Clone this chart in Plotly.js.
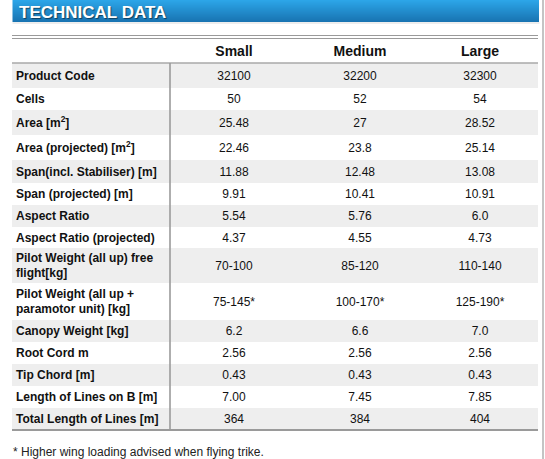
<!DOCTYPE html>
<html><head><meta charset="utf-8">
<script src="https://cdn.plot.ly/plotly-3.0.1.min.js"></script>
<style>html,body{margin:0;padding:0;background:#fff;} #chart{width:545px;height:459px;}</style>
</head><body><div id="chart"></div>
<script>
// ---- data ----
const title = "TECHNICAL DATA";
const sizes = ["Small", "Medium", "Large"];
const labels = ["Product Code", "Cells", "Area [m<sup>2</sup>]", "Area (projected) [m<sup>2</sup>]",
  "Span(incl. Stabiliser) [m]", "Span (projected) [m]", "Aspect Ratio", "Aspect Ratio (projected)",
  "Pilot Weight (all up) free<br>flight[kg]", "Pilot Weight (all up +<br>paramotor unit) [kg]",
  "Canopy Weight [kg]", "Root Cord m", "Tip Chord [m]", "Length of Lines on B [m]", "Total Length of Lines [m]"];
const small  = ["32100", "50", "25.48", "22.46", "11.88", "9.91", "5.54", "4.37", "70-100", "75-145*", "6.2", "2.56", "0.43", "7.00", "364"];
const medium = ["32200", "52", "27", "23.8", "12.48", "10.41", "5.76", "4.55", "85-120", "100-170*", "6.6", "2.56", "0.43", "7.45", "384"];
const large  = ["32300", "54", "28.52", "25.14", "13.08", "10.91", "6.0", "4.73", "110-140", "125-190*", "7.0", "2.56", "0.43", "7.85", "404"];
const footnote = "* Higher wing loading advised when flying trike.";

// ---- layout constants ----
const W = 545, H = 459;
const colEdges = [12, 170, 298, 422, 538];
const headerTop = 39, headerH = 24;
const rowHeights = [25, 22, 25, 25, 23, 22, 22, 21, 35, 37, 22, 22, 22, 22, 22];
const FONT = "Liberation Sans, Arial, Helvetica, sans-serif";
const GRAY = "#eeeeee", LINE = "#9a9a9a";
const TEXT_DY = 1.2;

const rowTops = [];
let acc = headerTop + headerH;
rowHeights.forEach(h => { rowTops.push(acc); acc += h; });
const tableBottom = acc;
const rowCenters = rowTops.map((t, i) => t + rowHeights[i] / 2 + TEXT_DY);
const colCenters = [1, 2, 3].map(i => (colEdges[i] + colEdges[i + 1]) / 2);

const shapes = [];
// header bar gradient (stripes)
const c0 = [44, 165, 232], c1 = [24, 116, 178];
const barH = 22;
for (let i = 0; i < barH; i++) {
  const t = i / (barH - 1);
  const c = c0.map((v, k) => Math.round(v + (c1[k] - v) * t));
  shapes.push({type: "rect", xref: "x", yref: "y", x0: 12.5, x1: 539, y0: i, y1: i + 1.05,
    fillcolor: `rgb(${c.join(",")})`, line: {width: 0}, layer: "below"});
}
shapes.push({type: "rect", xref: "x", yref: "y", x0: 12.5, x1: 539.5, y0: 22, y1: 24,
  fillcolor: "rgba(0,0,0,0.07)", line: {width: 0}, layer: "below"});
// row backgrounds
rowTops.forEach((t, i) => {
  if (i % 2 === 0) shapes.push({type: "rect", xref: "x", yref: "y", x0: colEdges[0], x1: colEdges[4],
    y0: t, y1: t + rowHeights[i], fillcolor: GRAY, line: {width: 0}, layer: "below"});
});
// lines
const hline = (y, w, c) => ({type: "line", xref: "x", yref: "y", x0: colEdges[0], x1: colEdges[4], y0: y, y1: y, line: {color: c, width: w}});
shapes.push(hline(35.5, 1.2, LINE));
shapes.push(hline(38.5, 1.2, LINE));
shapes.push(hline(headerTop + headerH, 1.6, "#a8a8a8"));
shapes.push(hline(tableBottom, 1.8, LINE));
shapes.push({type: "line", xref: "x", yref: "y", x0: colEdges[1], x1: colEdges[1], y0: headerTop + headerH, y1: tableBottom, line: {color: LINE, width: 1.6}});
shapes.push({type: "line", xref: "x", yref: "y", x0: 543, x1: 543, y0: 0, y1: H, line: {color: "#b0b0b0", width: 1.5}});

// ---- traces ----
const traces = [];
traces.push({type: "scatter", mode: "text", x: labels.map(() => 16), y: rowCenters,
  text: labels.map(s => "<b>" + s + "</b>"), textposition: "middle right",
  textfont: {family: FONT, size: 12, color: "#111"}, hoverinfo: "skip", showlegend: false, cliponaxis: false});
[small, medium, large].forEach((vals, j) => {
  traces.push({type: "scatter", mode: "text", x: vals.map(() => colCenters[j]), y: rowCenters,
    text: vals, textposition: "middle center",
    textfont: {family: FONT, size: 12, color: "#111"}, hoverinfo: "skip", showlegend: false, cliponaxis: false});
});
traces.push({type: "scatter", mode: "text", x: colCenters, y: sizes.map(() => headerTop + headerH / 2 + 1.5),
  text: sizes.map(s => "<b>" + s + "</b>"), textposition: "middle center",
  textfont: {family: FONT, size: 14, color: "#111"}, hoverinfo: "skip", showlegend: false, cliponaxis: false});

const annotations = [
  {xref: "x", yref: "y", x: 17, y: 12, xanchor: "left", yanchor: "middle", showarrow: false,
   text: "<b>" + title + "</b>", font: {family: FONT, size: 17, color: "#ffffff", shadow: "1px 1px 1px rgba(0,0,0,0.5)"}},
  {xref: "x", yref: "y", x: 11, y: 452, xanchor: "left", yanchor: "middle", showarrow: false,
   text: footnote, font: {family: FONT, size: 12, color: "#222"}}
];

const layout = {
  width: W, height: H, margin: {l: 0, r: 0, t: 0, b: 0}, paper_bgcolor: "#fff", plot_bgcolor: "#fff",
  xaxis: {range: [0, W], showgrid: false, zeroline: false, showticklabels: false, showline: false, ticks: "", fixedrange: true},
  yaxis: {range: [H, 0], showgrid: false, zeroline: false, showticklabels: false, showline: false, ticks: "", fixedrange: true},
  shapes: shapes, annotations: annotations, showlegend: false
};
Plotly.newPlot("chart", traces, layout, {staticPlot: true, displayModeBar: false});
</script></body></html>
